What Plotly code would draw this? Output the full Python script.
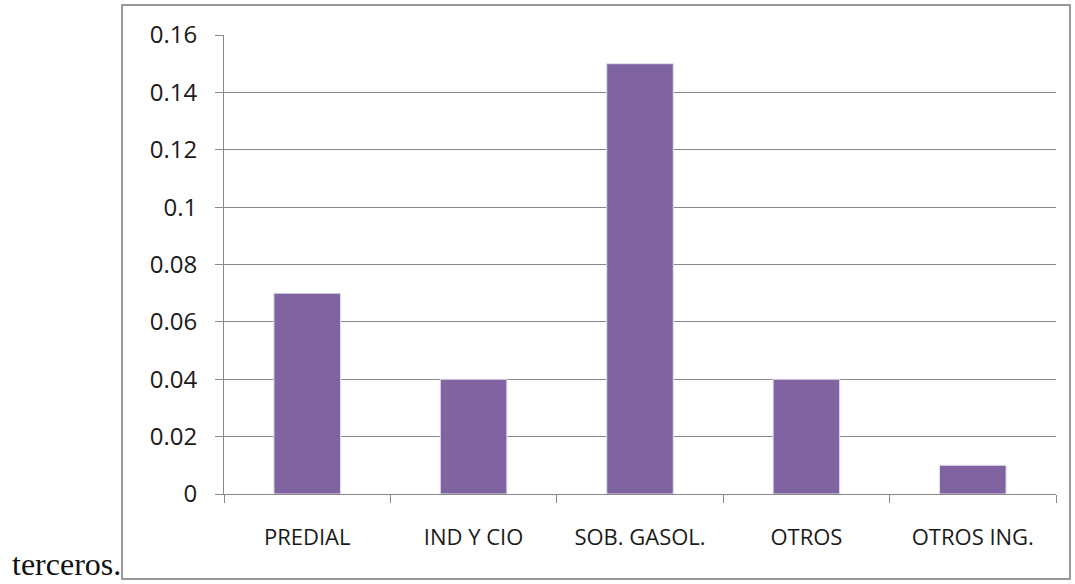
import plotly.graph_objects as go

categories = ["PREDIAL", "IND Y CIO", "SOB. GASOL.", "OTROS", "OTROS ING."]
values = [0.07, 0.04, 0.15, 0.04, 0.01]
ytick_vals = [0, 0.02, 0.04, 0.06, 0.08, 0.1, 0.12, 0.14, 0.16]
ytick_text = ["0", "0.02", "0.04", "0.06", "0.08", "0.1", "0.12", "0.14", "0.16"]

W, H = 1075, 584
x0, x1 = 224, 1056
y_top, y_bot = 35, 494

fig = go.Figure(go.Bar(
    x=categories, y=values,
    marker=dict(color="#8064A2", line=dict(color="#E4DDEE", width=1)),
    width=0.4,
    hoverinfo="skip",
))

grid = "#888888"
fig.update_layout(
    template="none",
    width=W, height=H,
    margin=dict(l=0, r=0, t=0, b=0, pad=0),
    paper_bgcolor="white", plot_bgcolor="white",
    showlegend=False,
    font=dict(family="Open Sans, Liberation Sans, sans-serif", color="#1a1a1a"),
    xaxis=dict(
        domain=[x0 / W, x1 / W],
        automargin=False,
        showline=True, linecolor=grid, linewidth=1,
        ticks="outside", ticklen=8, tickcolor=grid, tickwidth=1, tickson="boundaries",
        showgrid=False,
        tickfont=dict(size=22, color="#1a1a1a"),
        ticklabelstandoff=24,
    ),
    yaxis=dict(
        domain=[1 - y_bot / H, 1 - y_top / H],
        automargin=False,
        range=[0, 0.16],
        tickvals=ytick_vals, ticktext=ytick_text,
        showline=True, linecolor=grid, linewidth=1,
        ticks="outside", ticklen=8, tickcolor=grid, tickwidth=1,
        showgrid=True, gridcolor=grid, gridwidth=1,
        zeroline=False,
        tickfont=dict(size=24, color="#1a1a1a"),
        ticklabelstandoff=13,
    ),
    shapes=[dict(
        type="rect", xref="paper", yref="paper",
        x0=122 / W, x1=1070 / W, y0=1 - 579 / H, y1=1 - 5 / H,
        line=dict(color="#999999", width=2), fillcolor="rgba(0,0,0,0)",
        layer="below",
    )],
    annotations=[dict(
        text="terceros.", xref="paper", yref="paper",
        x=10 / W, y=0, xanchor="left", yanchor="bottom",
        showarrow=False,
        font=dict(family="Liberation Serif, Times New Roman, serif", size=32, color="#111111"),
    )],
)

fig.write_html("out.html", config={"displayModeBar": False},
               post_script="document.body.style.margin='0';")
